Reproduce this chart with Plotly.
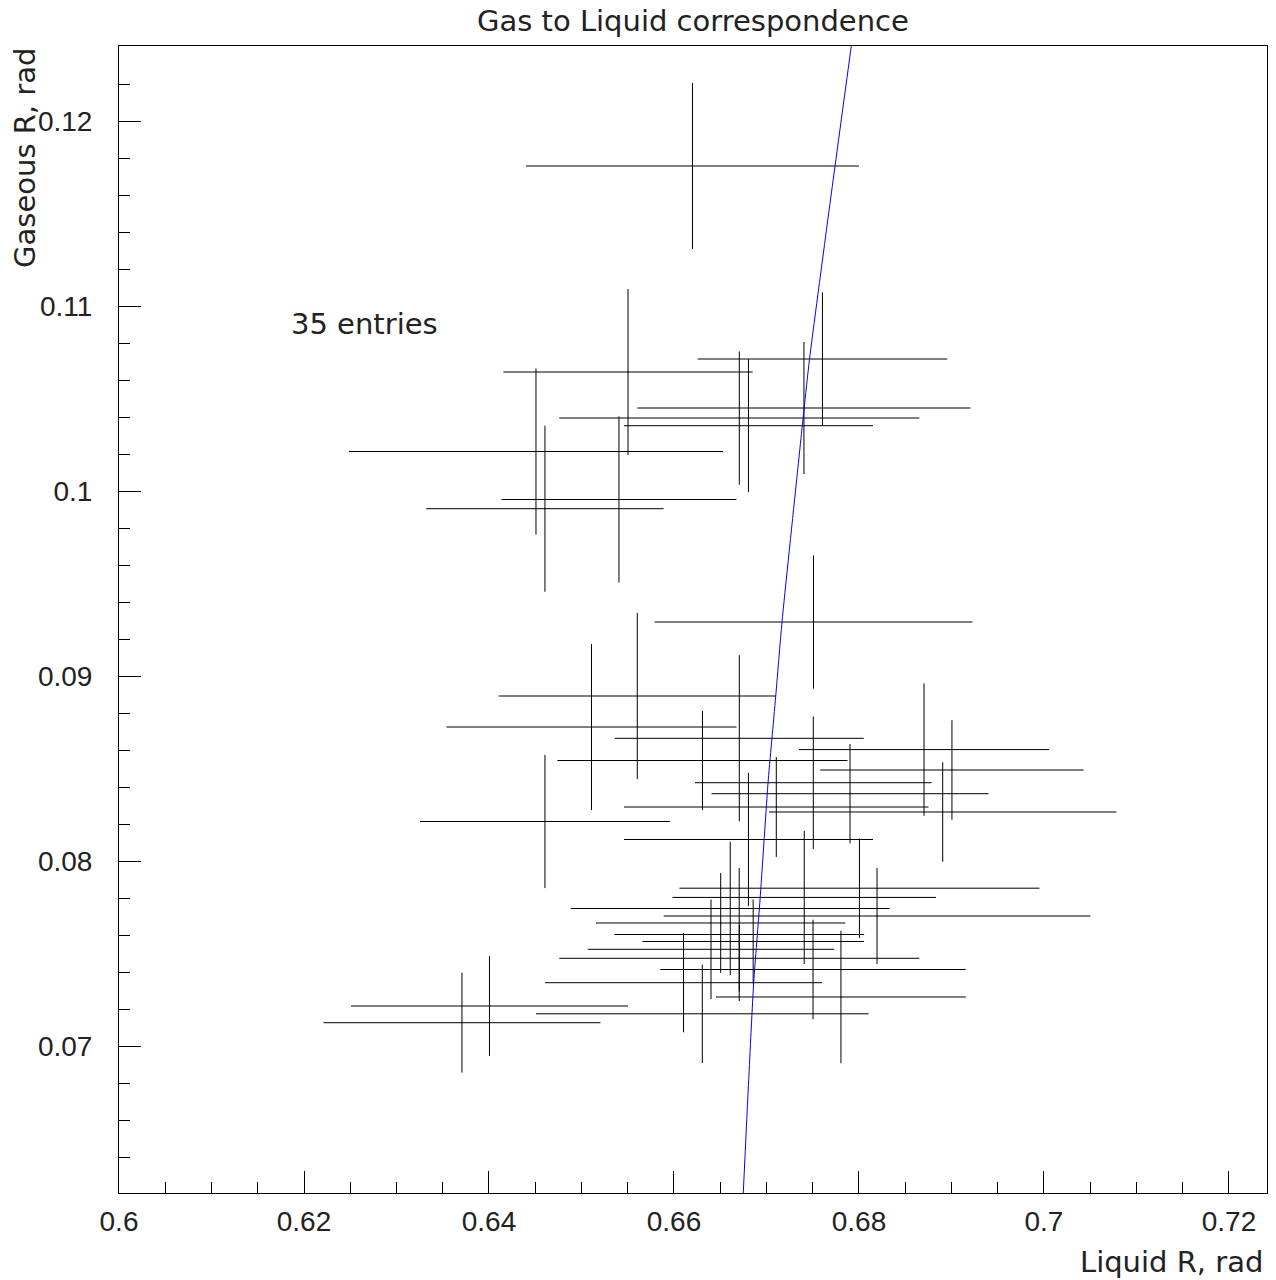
import plotly.graph_objects as go

# Data points: liquid R (x), gaseous R (y) with errors
liquid_r = [0.66200, 0.65503, 0.64508, 0.64605, 0.65405, 0.67605, 0.67405, 0.66706, 0.66805,
            0.67508, 0.65603, 0.65108, 0.66706, 0.66308, 0.67506, 0.67903, 0.67106, 0.64605,
            0.66805, 0.68703, 0.69005, 0.68905,
            0.64005, 0.63708, 0.66103, 0.66306, 0.66400, 0.66505, 0.66608, 0.66705, 0.66706,
            0.66856, 0.67408, 0.67503, 0.67805, 0.68005, 0.68195]
liquid_err = [0.0180, 0.01348, 0.02022, 0.01283, 0.0127, 0.01349, 0.0180, 0.01946, 0.01346,
              0.01719, 0.0150, 0.01568, 0.01346, 0.01568, 0.01279, 0.01497, 0.01646, 0.01351,
              0.01346, 0.01351, 0.01424, 0.01878,
              0.01497, 0.01497, 0.01497, 0.01798, 0.01333, 0.01348, 0.01724, 0.0135, 0.01946,
              0.01198, 0.01425, 0.01651, 0.01351, 0.01946, 0.02306]
gas_r = [0.117568, 0.106432, 0.102135, 0.099043, 0.099541, 0.107135, 0.104486, 0.103946, 0.103530,
         0.092919, 0.088919, 0.087243, 0.086632, 0.085432, 0.084232, 0.083638, 0.082919, 0.082135,
         0.081162, 0.086022, 0.084919, 0.082649,
         0.072162, 0.071259, 0.073422, 0.071741, 0.075227, 0.076649, 0.077432, 0.076027, 0.074741,
         0.075649, 0.078032, 0.074135, 0.072649, 0.078530, 0.077027]
gas_err = [0.00449, 0.00449, 0.00449, 0.00449, 0.00449, 0.0036, 0.00357, 0.0036, 0.00359,
           0.0036, 0.00449, 0.00449, 0.00449, 0.00268, 0.00358, 0.00269, 0.0027, 0.0036,
           0.0036, 0.00358, 0.00269, 0.00269,
           0.0027, 0.0027, 0.00268, 0.00266, 0.00269, 0.0027, 0.0036, 0.0036, 0.0018,
           0.00227, 0.0036, 0.00269, 0.00358, 0.00269, 0.0026]

# Fitted curve
curve_x = [0.67917, 0.67741, 0.67654, 0.67465, 0.67405, 0.67326, 0.67168, 0.67100,
           0.67059, 0.67019, 0.66930, 0.66862, 0.66808, 0.66749]
curve_y = [0.124054, 0.117568, 0.114324, 0.107119, 0.104378, 0.100595, 0.092935, 0.088919,
           0.086632, 0.084378, 0.077892, 0.073459, 0.068200, 0.062054]

x_tickvals = [0.6, 0.62, 0.64, 0.66, 0.68, 0.7, 0.72]
x_ticktext = ["0.6", "0.62", "0.64", "0.66", "0.68", "0.7", "0.72"]
y_tickvals = [0.07, 0.08, 0.09, 0.1, 0.11, 0.12]
y_ticktext = ["0.07", "0.08", "0.09", "0.1", "0.11", "0.12"]

title_text = "Gas to Liquid correspondence"
x_title = "Liquid R, rad"
y_title = "Gaseous R, rad"
entries_text = "35 entries"

TICKFONT = "Liberation Sans"
FONT = "DejaVu Sans"
TXT = "#222222"

fig = go.Figure()
fig.add_trace(go.Scatter(
    x=liquid_r, y=gas_r, mode="markers",
    marker=dict(size=1, color="black"),
    error_x=dict(type="data", array=liquid_err, width=0, thickness=1, color="black"),
    error_y=dict(type="data", array=gas_err, width=0, thickness=1, color="black"),
    showlegend=False, hoverinfo="skip",
))
fig.add_trace(go.Scatter(
    x=curve_x, y=curve_y, mode="lines", line=dict(color="blue", width=1, shape="spline", smoothing=0.6),
    showlegend=False, hoverinfo="skip",
))

axis_common = dict(
    showgrid=False, zeroline=False, showline=True, linecolor="black", linewidth=1,
    mirror=True, ticks="inside", ticklen=22, tickcolor="black", tickwidth=1,
    tickfont=dict(family=TICKFONT, size=28, color=TXT),
)

fig.update_xaxes(
    range=[0.6, 0.72411], tickmode="array", tickvals=x_tickvals, ticktext=x_ticktext,
    minor=dict(tickmode="linear", tick0=0.6, dtick=0.005, ticks="inside", ticklen=11,
               tickcolor="black", tickwidth=1, showgrid=False),
    ticklabelstandoff=3,
    **axis_common,
)
fig.update_yaxes(
    range=[0.062054, 0.124054], tickmode="array", tickvals=y_tickvals, ticktext=y_ticktext,
    minor=dict(tickmode="linear", tick0=0.06, dtick=0.002, ticks="inside", ticklen=11,
               tickcolor="black", tickwidth=1, showgrid=False),
    ticklabelstandoff=20,
    **axis_common,
)

fig.update_layout(
    width=1276, height=1280,
    margin=dict(l=119, r=9, t=46, b=87),
    plot_bgcolor="white", paper_bgcolor="white",
    font=dict(family=FONT, color=TXT),
    annotations=[
        dict(text=title_text, xref="paper", yref="paper", x=0.5, y=1.0218,
             xanchor="center", yanchor="middle", showarrow=False,
             font=dict(family=FONT, size=29, color=TXT)),
        dict(text=x_title, xref="paper", yref="paper", x=0.9983, y=-0.0602,
             xanchor="right", yanchor="middle", showarrow=False,
             font=dict(family=FONT, size=29, color=TXT)),
        dict(text=y_title, xref="paper", yref="paper", x=-0.0819, y=0.9024,
             xanchor="center", yanchor="middle", textangle=-90, showarrow=False,
             font=dict(family=FONT, size=29, color=TXT)),
        dict(text=entries_text, xref="paper", yref="paper", x=0.214, y=0.7576,
             xanchor="center", yanchor="middle", showarrow=False,
             font=dict(family=FONT, size=29, color=TXT)),
    ],
)

fig.write_html("out.html")
